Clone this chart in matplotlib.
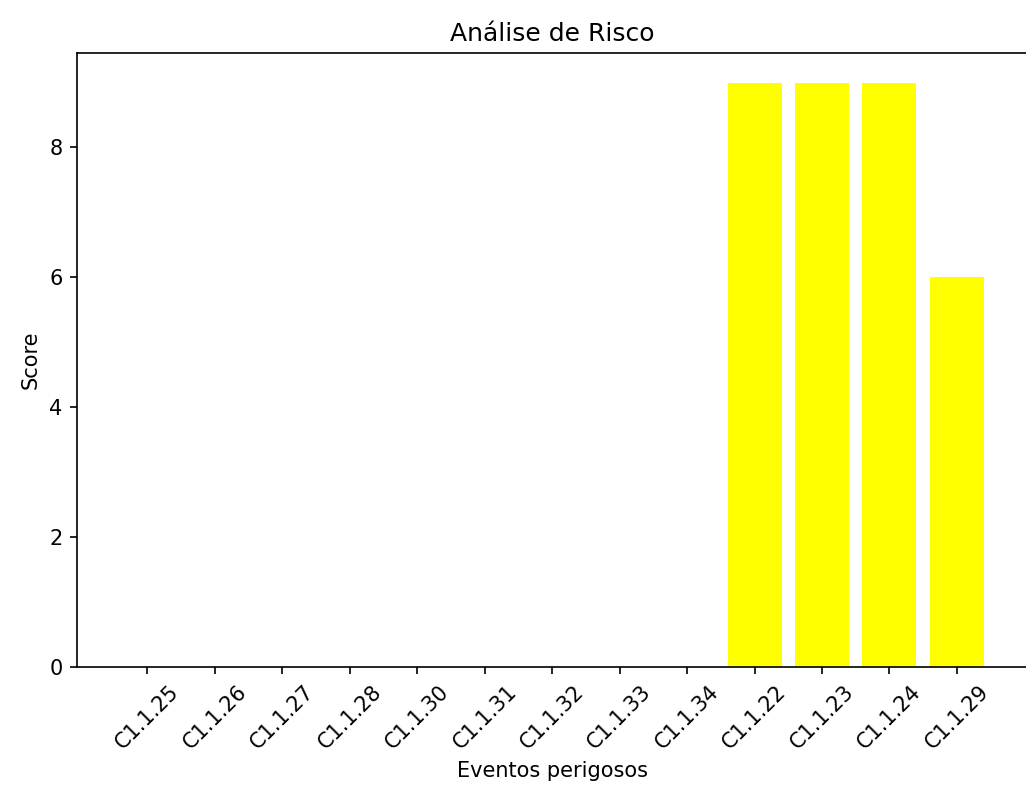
import matplotlib
matplotlib.use('Agg')
import matplotlib.pyplot as plt

eventos = ['C1.1.25', 'C1.1.26', 'C1.1.27', 'C1.1.28', 'C1.1.30', 'C1.1.31',
           'C1.1.32', 'C1.1.33', 'C1.1.34', 'C1.1.22', 'C1.1.23', 'C1.1.24',
           'C1.1.29']
score = [0, 0, 0, 0, 0, 0, 0, 0, 0, 9, 9, 9, 6]

fig = plt.figure(figsize=(10.26 / 1.5, 7.87 / 1.5), dpi=150)
# eixos cortados a direita como na imagem original
ax = fig.add_axes([77.3 / 1026, 120 / 787, 1.001 - 77.3 / 1026, (667 - 53.3) / 787])
ax.bar(eventos, score, color='yellow')
ax.set_title('Análise de Risco')
ax.set_xlabel('Eventos perigosos')
ax.set_ylabel('Score')
plt.xticks(rotation=45)
plt.savefig('out.png', dpi=150)
